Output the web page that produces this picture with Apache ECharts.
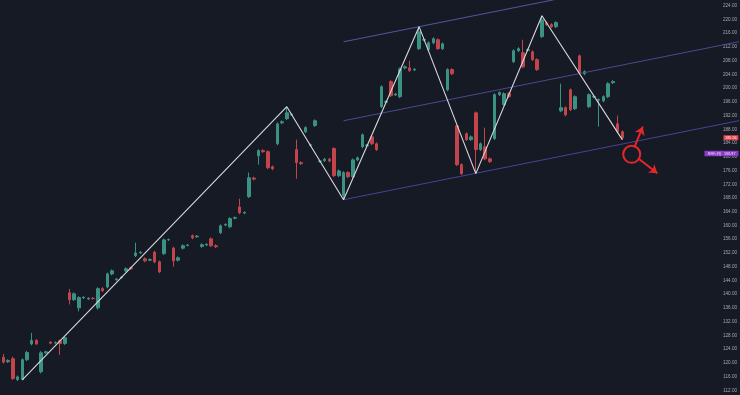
<!DOCTYPE html>
<html>
<head>
<meta charset="utf-8">
<script src="https://cdn.jsdelivr.net/npm/echarts@6/dist/echarts.min.js"></script>
<style>
  html, body { margin: 0; padding: 0; background: #161a25; }
  #chart { width: 740px; height: 395px; }
</style>
</head>
<body>
<div id="chart"></div>
<script>
// daily candles (open / close / low / high)
var opens = [
  121.6,120.3,121.2,115.1,115.1,120.9,125.5,126.5,117.4,122.9,
  126.0,125.8,126.4,125.6,140.4,138.4,136.0,138.9,138.6,138.8,
  136.0,141.6,142.1,145.9,144.2,144.8,146.8,147.7,151.2,152.0,
  150.3,149.9,152.2,149.4,151.8,155.8,153.4,149.9,153.4,154.2,
  157.0,156.7,153.9,154.3,156.1,154.1,157.9,160.1,159.6,162.1,
  165.4,163.6,168.4,173.8,180.3,181.8,181.5,177.1,183.8,189.9,
  191.1,192.2,182.1,178.3,187.3,183.3,189.1,178.6,178.9,179.3,
  182.4,174.5,168.7,175.4,174.2,179.1,182.9,183.2,185.8,183.8,
  194.6,195.9,201.9,198.0,197.5,205.9,205.9,205.3,211.5,214.0,
  211.2,213.2,214.1,211.5,199.5,205.4,189.0,177.7,186.7,185.0,
  192.8,182.1,182.9,179.4,185.3,198.1,195.2,198.4,207.7,210.9,
  210.3,211.0,210.6,208.3,215.0,219.0,218.5,217.9,193.4,194.3,
  199.5,194.0,209.4,204.2,194.6,197.4,196.5,196.3,197.5,201.6,
  189.6,187.3
];
var closes = [
  120.2,120.7,115.4,115.9,120.9,123.0,126.5,125.5,122.9,123.2,
  125.7,125.9,125.6,127.3,138.4,140.1,139.0,139.1,138.8,138.7,
  141.6,141.0,145.9,146.8,144.4,145.0,147.4,147.4,152.0,152.2,
  149.7,150.1,149.4,146.5,155.8,155.9,149.7,150.6,154.1,154.3,
  156.4,156.9,154.4,154.5,154.1,153.8,159.9,160.3,162.0,162.3,
  163.7,163.8,173.9,173.5,181.8,181.5,176.8,176.5,189.6,190.2,
  192.8,192.4,178.3,178.0,188.5,183.5,190.5,178.8,179.3,178.8,
  174.5,175.9,175.4,174.2,179.1,179.7,186.4,183.4,183.8,182.1,
  200.4,196.1,197.8,198.3,205.6,206.2,205.1,205.5,216.4,214.2,
  213.2,214.4,211.5,212.9,205.4,204.2,177.7,175.1,185.0,185.8,
  182.1,183.8,179.4,178.6,198.1,198.7,198.4,197.5,210.9,211.5,
  206.2,211.2,208.3,205.4,219.9,218.5,217.9,219.1,194.3,192.2,
  193.7,197.5,204.5,204.8,198.1,197.6,196.7,197.5,201.3,201.9,
  187.3,185.56
];
var lows = [
  119.8,120.0,115.0,114.7,115.0,120.5,125.1,125.2,116.9,122.6,
  125.4,125.5,122.3,125.2,137.0,138.0,135.0,138.6,138.3,138.4,
  135.5,140.6,141.7,145.5,143.9,144.5,146.4,147.0,150.8,151.7,
  149.3,149.6,149.0,146.1,151.4,155.5,148.0,149.5,153.0,153.9,
  156.0,156.4,153.5,154.0,153.7,153.4,157.5,159.8,159.2,161.8,
  163.3,163.3,168.0,173.1,177.7,181.1,176.4,176.1,183.4,189.5,
  190.7,191.9,173.6,177.6,186.9,183.0,188.7,178.3,178.5,178.4,
  174.1,174.1,167.5,173.8,173.8,178.7,182.5,182.9,183.4,181.7,
  194.2,195.6,197.4,197.7,197.1,205.5,204.7,205.0,211.1,213.7,
  210.8,212.8,211.1,211.1,199.1,203.8,177.3,174.7,184.6,184.6,
  175.1,181.7,179.0,178.2,184.9,197.7,194.8,197.1,207.3,210.5,
  205.8,210.7,207.9,205.0,214.6,218.1,217.5,217.5,193.0,191.8,
  193.3,193.6,204.1,203.8,194.2,197.1,188.8,195.9,197.1,201.2,
  186.9,184.9
];
var highs = [
  122.6,121.0,121.8,116.3,121.3,123.5,128.7,126.9,123.4,123.5,
  126.3,126.2,126.8,127.7,141.5,140.5,139.4,139.4,139.1,139.1,
  142.0,142.0,146.3,147.2,144.7,145.3,147.8,148.0,155.0,152.5,
  150.7,150.4,152.6,149.8,156.2,156.2,153.8,151.0,154.5,154.6,
  157.4,157.2,154.8,154.8,156.5,154.5,160.3,160.6,162.4,162.6,
  167.8,164.1,175.4,174.2,182.2,182.2,181.9,177.5,190.0,190.6,
  194.6,192.7,185.0,178.7,188.9,183.8,190.9,179.1,179.7,179.7,
  182.8,176.3,175.8,175.8,179.5,180.1,186.8,183.7,186.2,184.2,
  200.8,196.4,202.3,198.6,206.0,206.6,208.0,205.8,217.9,214.5,
  213.6,214.8,214.5,213.3,205.8,205.8,189.4,178.1,187.1,186.2,
  193.2,184.2,188.5,179.8,198.5,199.1,198.8,198.8,211.3,211.9,
  214.1,211.5,211.0,208.7,221.1,219.4,218.9,219.5,201.3,194.7,
  199.9,197.9,209.8,205.2,198.5,197.9,197.0,197.9,201.7,202.3,
  192.0,187.7
];

// zigzag swing points (candle index, price)
var swingIdx = [4, 60, 72, 88, 100, 114, 131];
var swingVal = [115.0, 194.6, 167.5, 217.9, 175.1, 221.1, 185.0];

// parallel channel, start / end
var channelIdx = [72, 156];
var upperVal = [213.5, 236.6];
var middleVal = [190.5, 213.6];
var lowerVal = [167.5, 190.6];

// y axis
var yMin = 108, yMax = 228, yStep = 4;

// price tags
var lastPrice = 185.56;
var extPrice = 180.97;
var extLabel = '오버나잇';

// red circle + arrows (index, price)
var circlePt = [133.0, 180.72];
var arrowUp = [[133.56, 182.76], [135.34, 188.76]];
var arrowDown = [[134.62, 179.27], [138.43, 175.19]];

var slots = 156;
var categories = [];
for (var i = 0; i < slots; i++) categories.push(String(i + 1));

var candles = opens.map(function (o, i) {
  return [o, closes[i], lows[i], highs[i]];
});
var pts = function (xs, ys) {
  return xs.map(function (x, i) { return [x, ys[i]]; });
};

var chart = echarts.init(document.getElementById('chart'));
var red = '#e5262b';

var option = {
  backgroundColor: '#161a25',
  animation: false,
  grid: { left: 1, right: 2, top: -8, bottom: -9, containLabel: false, outerBoundsMode: 'none' },
  xAxis: [
    { type: 'category', data: categories, show: false, boundaryGap: true },
    { type: 'value', min: -0.5, max: slots - 0.5, show: false }
  ],
  yAxis: {
    type: 'value', position: 'right', min: yMin, max: yMax, interval: yStep,
    axisLine: { show: false }, axisTick: { show: false }, splitLine: { show: false },
    axisLabel: {
      inside: true, margin: 1, fontSize: 4.6, color: '#a4a7af',
      fontFamily: 'Liberation Sans',
      formatter: function (v) { return v.toFixed(2); }
    }
  },
  series: [
    {
      type: 'candlestick',
      data: candles,
      barWidth: 3,
      itemStyle: {
        color: '#3a9284', color0: '#c2454c',
        borderColor: '#3a9284', borderColor0: '#c2454c', borderWidth: 1
      },
      markPoint: {
        silent: true,
        data: [
          {
            coord: [153.6, lastPrice], symbol: 'rect', symbolSize: [15, 5],
            itemStyle: { color: '#e0434a' },
            label: { show: true, position: 'inside', formatter: lastPrice.toFixed(2),
              color: '#fff', fontSize: 3.8, fontFamily: 'Liberation Sans' }
          },
          {
            coord: [151.7, extPrice], symbol: 'rect', symbolSize: [34, 5.4],
            itemStyle: { color: '#8c3bc6' },
            label: { show: true, position: 'inside', formatter: extLabel + '   ' + extPrice.toFixed(2),
              color: '#f1e6fb', fontSize: 3.8, fontFamily: 'Noto Sans CJK KR' }
          }
        ]
      }
    },
    {
      type: 'line', xAxisIndex: 1, data: pts(channelIdx, upperVal),
      symbol: 'none', silent: true, lineStyle: { color: '#5f5bb0', width: 0.9 }
    },
    {
      type: 'line', xAxisIndex: 1, data: pts(channelIdx, middleVal),
      symbol: 'none', silent: true, lineStyle: { color: '#524e9a', width: 0.9 }
    },
    {
      type: 'line', xAxisIndex: 1, data: pts(channelIdx, lowerVal),
      symbol: 'none', silent: true, lineStyle: { color: '#4b48a8', width: 0.9 }
    },
    {
      type: 'line', xAxisIndex: 1, data: pts(swingIdx, swingVal), z: 5,
      symbol: 'none', silent: true, lineStyle: { color: '#d9d9dc', width: 1.1 },
      markPoint: {
        silent: true,
        data: [{
          coord: circlePt, symbol: 'circle', symbolSize: 17,
          itemStyle: { color: 'rgba(0,0,0,0)', borderColor: red, borderWidth: 2 },
          label: { show: false }
        }]
      },
      markLine: {
        silent: true, symbol: ['none', 'arrow'], symbolSize: 8,
        lineStyle: { color: red, width: 2, type: 'solid' },
        label: { show: false },
        data: [
          [{ coord: arrowUp[0] }, { coord: arrowUp[1] }],
          [{ coord: arrowDown[0] }, { coord: arrowDown[1] }]
        ]
      }
    }
  ]
};
chart.setOption(option);
</script>
</body>
</html>
